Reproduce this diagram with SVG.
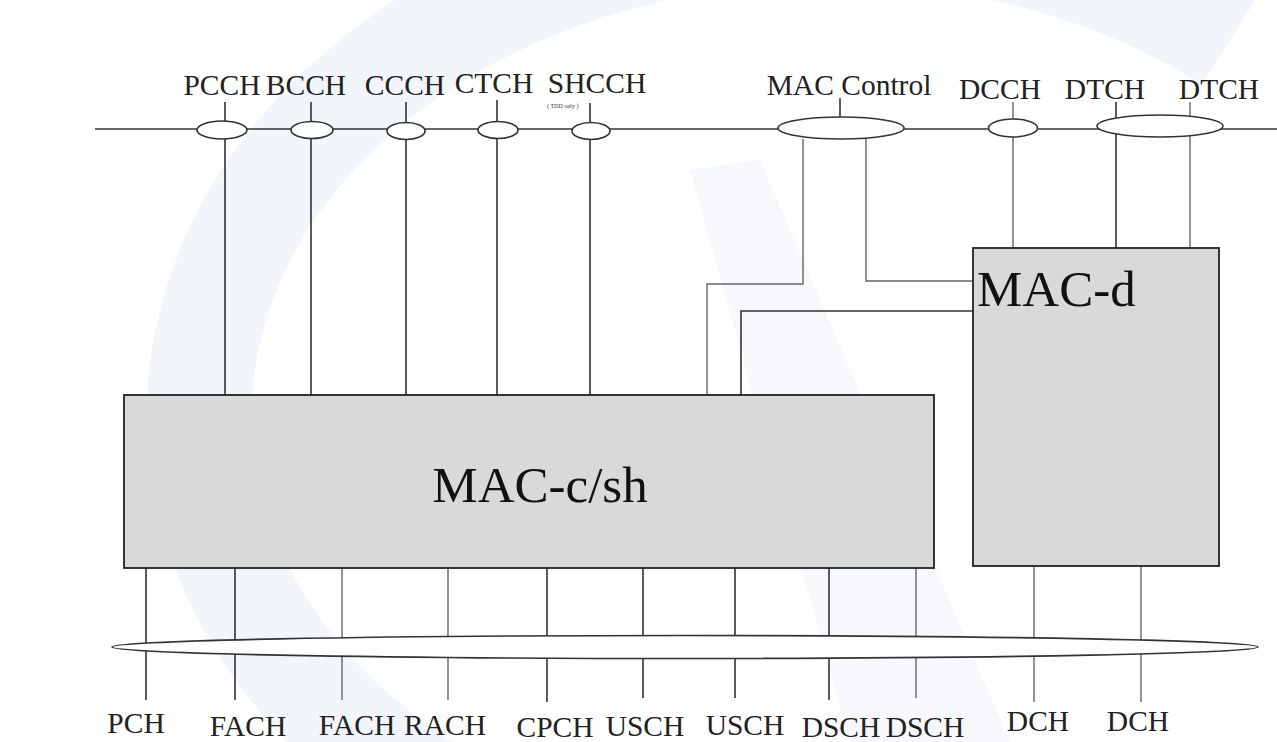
<svg xmlns="http://www.w3.org/2000/svg" width="1277" height="742" viewBox="0 0 1277 742">
<style>
.lbl{font-family:"Liberation Serif","Times New Roman",serif;font-size:29.5px;fill:#222;text-anchor:middle}
.big{font-family:"Liberation Serif","Times New Roman",serif;font-size:51px;fill:#111}
.ln{stroke:#333;stroke-width:1.6;fill:none}
.lg{stroke:#666;stroke-width:1.4;fill:none}
.ell{fill:#fff;stroke:#333;stroke-width:1.6}
.box{fill:#d9d9d9;stroke:#222;stroke-width:1.8}
</style>
<rect width="1277" height="742" fill="#fff"/>
<g id="watermark" fill="none" stroke="#f2f5fa">
<path d="M1230 40 A520 400 0 1 0 430 790" stroke-width="105"/>
<path d="M690 170 L760 160 L1010 742 L850 742 Z" fill="#f7f8fb" stroke="none"/>
</g>
<g id="connectors">
<line class="ln" x1="95" y1="129" x2="1277" y2="129"/>
<line class="ln" x1="225" y1="102" x2="225" y2="395"/>
<line class="ln" x1="311" y1="102" x2="311" y2="395"/>
<line class="ln" x1="406" y1="102" x2="406" y2="395"/>
<line class="ln" x1="497" y1="100" x2="497" y2="395"/>
<line class="ln" x1="590" y1="103" x2="590" y2="395"/>
<line class="ln" x1="840" y1="98" x2="840" y2="118"/>
<polyline class="lg" points="803,139 803,284 707,284 707,395"/>
<polyline class="lg" points="866,139 866,281 973,281"/>
<polyline class="ln" points="973,311 741,311 741,395"/>
<line class="lg" x1="1013" y1="102" x2="1013" y2="248"/>
<line class="ln" x1="1116" y1="102" x2="1116" y2="248"/>
<line class="lg" x1="1190" y1="102" x2="1190" y2="252"/>
<line class="ln" x1="146" y1="568" x2="146" y2="700"/>
<line class="ln" x1="235" y1="568" x2="235" y2="700"/>
<line class="lg" x1="342" y1="568" x2="342" y2="700"/>
<line class="lg" x1="448" y1="568" x2="448" y2="700"/>
<line class="ln" x1="547" y1="568" x2="547" y2="702"/>
<line class="ln" x1="643" y1="568" x2="643" y2="698"/>
<line class="ln" x1="735" y1="568" x2="735" y2="698"/>
<line class="ln" x1="829" y1="568" x2="829" y2="700"/>
<line class="lg" x1="916" y1="568" x2="916" y2="698"/>
<line class="lg" x1="1034" y1="566" x2="1034" y2="702"/>
<line class="lg" x1="1141" y1="566" x2="1141" y2="702"/>
<ellipse class="ell" cx="222" cy="130" rx="25" ry="9"/>
<ellipse class="ell" cx="312" cy="130" rx="21" ry="8.5"/>
<ellipse class="ell" cx="406" cy="131" rx="19" ry="8.5"/>
<ellipse class="ell" cx="498" cy="130" rx="20" ry="8.5"/>
<ellipse class="ell" cx="591" cy="131" rx="19" ry="8.5"/>
<ellipse class="ell" cx="841" cy="128" rx="63" ry="11"/>
<ellipse class="ell" cx="1013" cy="128" rx="24.5" ry="9"/>
<ellipse class="ell" cx="1160" cy="126" rx="63" ry="11"/>
<ellipse class="ell" cx="685" cy="647" rx="573" ry="11.5"/>
</g>
<g id="top-labels">
<text class="lbl" x="222" y="95">PCCH</text>
<text class="lbl" x="306" y="95">BCCH</text>
<text class="lbl" x="405" y="95">CCCH</text>
<text class="lbl" x="494" y="93">CTCH</text>
<text class="lbl" x="597" y="93">SHCCH</text>
<text x="547" y="108" font-family="Liberation Serif, serif" font-size="6" fill="#333">( TDD only )</text>
<text class="lbl" x="849" y="95">MAC Control</text>
<text class="lbl" x="1000" y="99">DCCH</text>
<text class="lbl" x="1105" y="99">DTCH</text>
<text class="lbl" x="1219" y="99">DTCH</text>
</g>
<g id="mac-csh">
<rect class="box" x="124" y="395" width="810" height="173"/>
<text class="big" x="540" y="502" text-anchor="middle">MAC-c/sh</text>
</g>
<g id="mac-d">
<rect class="box" x="973" y="248" width="246" height="318"/>
<text class="big" x="977" y="306">MAC-d</text>
</g>
<g id="bottom-labels">
<text class="lbl" x="136" y="733">PCH</text>
<text class="lbl" x="248" y="736">FACH</text>
<text class="lbl" x="357" y="735">FACH</text>
<text class="lbl" x="445" y="735">RACH</text>
<text class="lbl" x="555" y="737">CPCH</text>
<text class="lbl" x="645" y="736">USCH</text>
<text class="lbl" x="745" y="735">USCH</text>
<text class="lbl" x="841" y="737">DSCH</text>
<text class="lbl" x="925" y="737">DSCH</text>
<text class="lbl" x="1038" y="731">DCH</text>
<text class="lbl" x="1138" y="731">DCH</text>
</g>
</svg>
